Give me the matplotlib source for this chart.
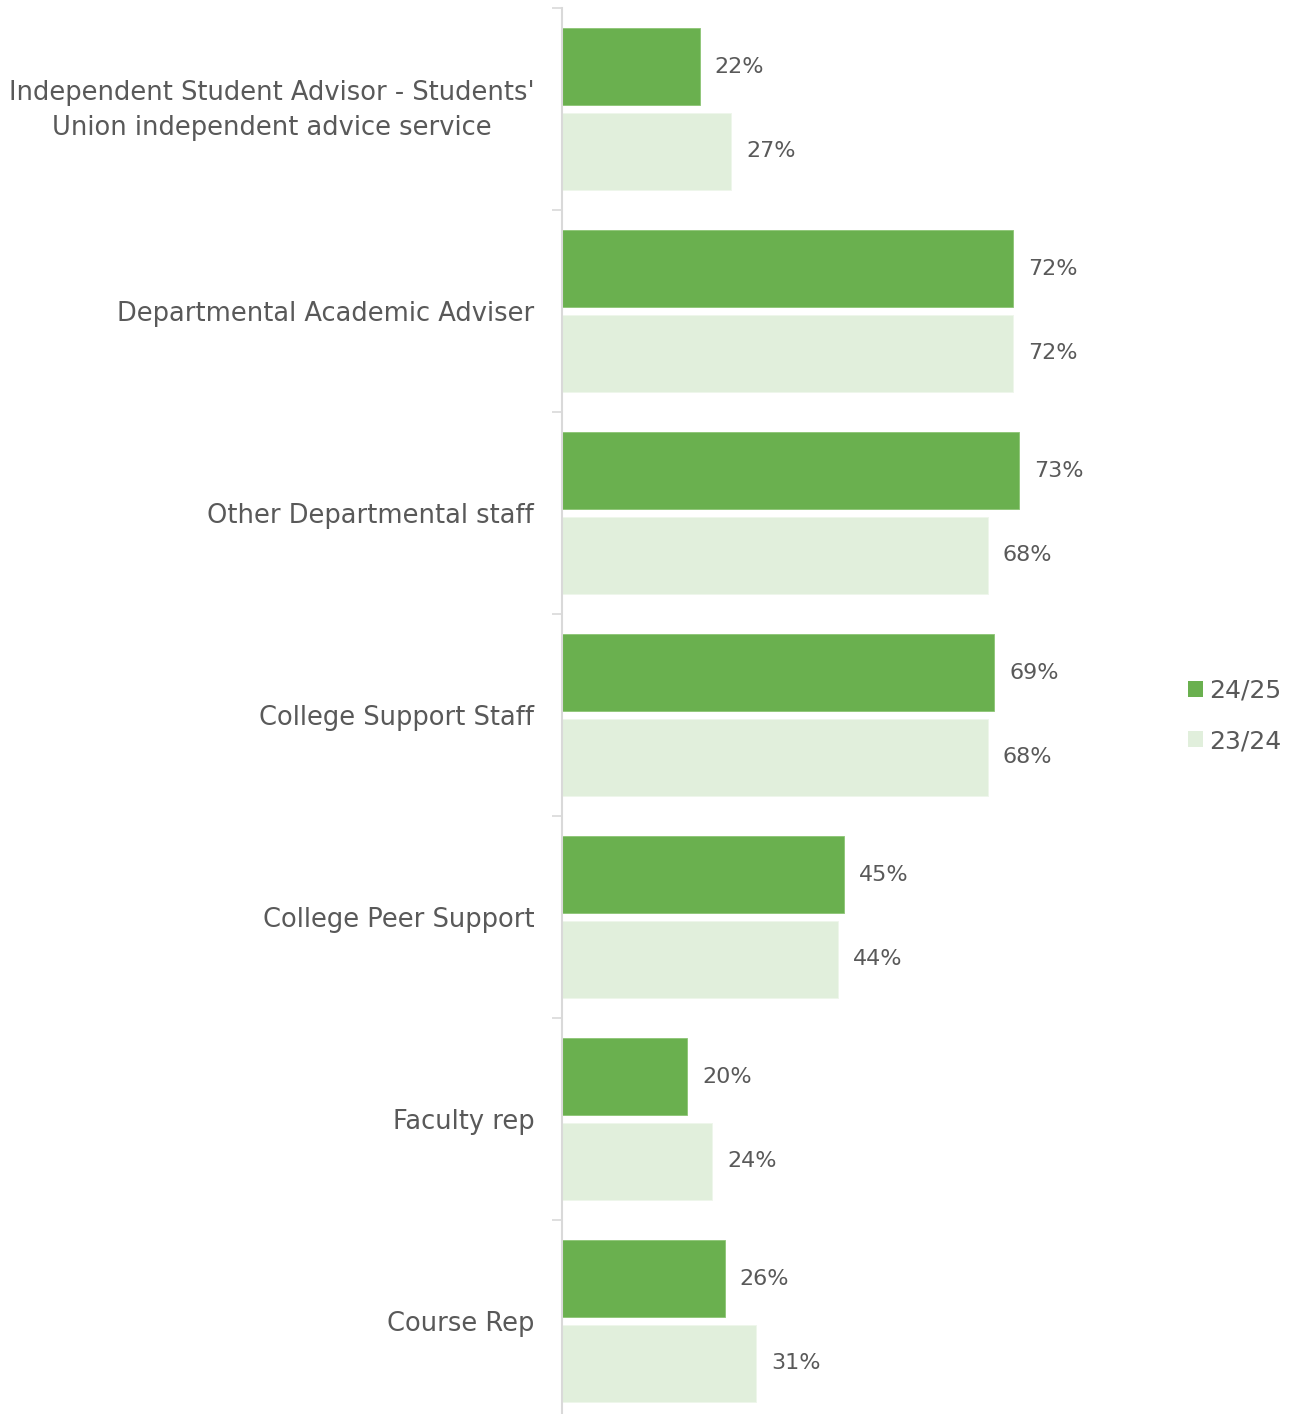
import matplotlib.pyplot as plt
import matplotlib.transforms as mtransforms
import numpy as np
from matplotlib.patches import Patch

# categories top to bottom
categories = ["Independent Student Advisor - Students'\nUnion independent advice service",
              "Departmental Academic Adviser",
              "Other Departmental staff",
              "College Support Staff",
              "College Peer Support",
              "Faculty rep",
              "Course Rep"]
vals_2425 = [22, 72, 73, 69, 45, 20, 26]
vals_2324 = [27, 72, 68, 68, 44, 24, 31]
series_names = ["24/25", "23/24"]

dark = '#6ab04f'
light = '#e1efdc'
txt = '#595959'
grid_c = '#d9d9d9'

plt.rcParams['font.family'] = ['DejaVu Sans']

fig = plt.figure(figsize=(13, 14.14), dpi=100)
ax = fig.add_axes([562/1300, -8/1414, 501/1300, 1414/1414])

n = len(categories)
y = np.arange(n)
h = 0.381
off = 0.21
b1 = ax.barh(y - off, vals_2425, height=h, color=dark, edgecolor='#8cc474', linewidth=0.6)
b2 = ax.barh(y + off, vals_2324, height=h, color=light, edgecolor='#eef6eb', linewidth=0.6)

for bars, vals in ((b1, vals_2425), (b2, vals_2324)):
    for r, v in zip(bars, vals):
        ax.text(v + 2.4, r.get_y() + r.get_height()/2, f"{v}%", va='center', ha='left',
                fontsize=16, color=txt)

ax.set_xlim(0, 80)
ax.set_ylim(n - 0.5, -0.5)

ax.set_yticks(y)
ax.set_yticklabels(categories, fontsize=18.5, color=txt, linespacing=1.47,
                   multialignment='center')
ax.tick_params(axis='y', length=0, pad=20)
ax.set_yticks(np.arange(n + 1) - 0.5, minor=True)
ax.tick_params(axis='y', which='minor', length=7, color=grid_c, width=1.2)
ax.set_xticks([])

# two-line label sits a little high in its band
first = ax.get_yticklabels()[0]
first.set_transform(first.get_transform() +
                    mtransforms.ScaledTranslation(0, 6/100, fig.dpi_scale_trans))

for s in ('top', 'right', 'bottom'):
    ax.spines[s].set_visible(False)
ax.spines['left'].set_color(grid_c)
ax.spines['left'].set_linewidth(1.5)

handles = [Patch(facecolor=dark, label=series_names[0]),
           Patch(facecolor=light, label=series_names[1])]
leg = fig.legend(handles=handles, loc='center left', bbox_to_anchor=(1165/1300, 1 - 716/1414),
                 frameon=False, fontsize=18, handlelength=0.6, handleheight=0.6,
                 handletextpad=0.25, labelspacing=1.05)
for t in leg.get_texts():
    t.set_color(txt)

fig.savefig('out.png', dpi=100)
